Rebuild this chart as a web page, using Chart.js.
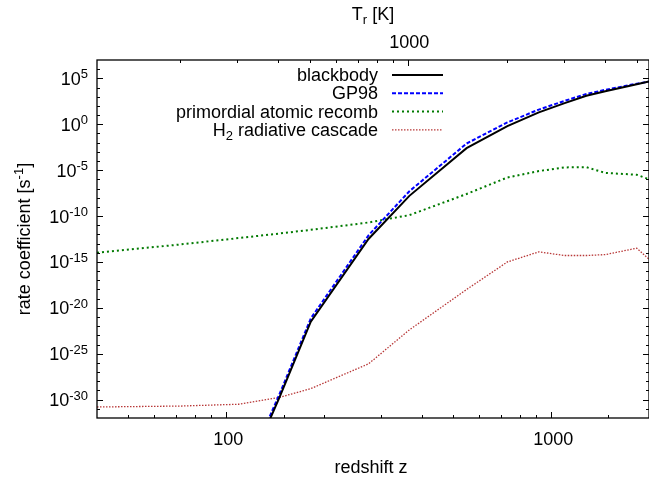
<!DOCTYPE html>
<html lang="en">
<head>
<meta charset="utf-8">
<title>Rate coefficients vs redshift</title>
<script src="https://cdn.jsdelivr.net/npm/chart.js@4.4.1/dist/chart.umd.min.js"></script>
<style>
  html, body { margin: 0; padding: 0; background: #fff; }
  .chart-container { width: 649px; height: 478px; }
</style>
</head>
<body>
<div class="chart-container"><canvas id="rate-chart" width="649" height="478"></canvas></div>

<script>
/* redshift of each tabulated point */
const redshift = [40, 72, 109, 146, 182, 274, 366, 549, 733, 916, 1100, 1283, 1467, 1834, 2000];

/* log10 of rate coefficient [s^-1] at each redshift (null = no point) */
const blackbodyExp = [null, null, -40.0, -29.7, -21.5, -12.5, -7.8, -2.6, -0.2, 1.3, 2.3, 3.1, 3.6, 4.35, 4.65];
const gp98Exp      = [null, null, -39.6, -29.35, -21.15, -12.1, -7.3, -2.1, 0.2, 1.6, 2.55, 3.3, 3.75, 4.42, 4.65];
const recombExp    = [-14.0, -13.1, -12.4, -11.9, -11.5, -10.7, -9.9, -7.6, -5.8, -5.1, -4.7, -4.68, -5.3, -5.5, -6.0];
const cascadeExp   = [-30.8, -30.7, -30.5, -29.75, -28.8, -26.1, -22.4, -18.0, -15.0, -13.9, -14.3, -14.3, -14.2, -13.5, -14.7];

const seriesNames = ['blackbody', 'GP98', 'primordial atomic recomb', 'H2 radiative cascade'];

/* axis ticks */
const yLabelExps = [5, 0, -5, -10, -15, -20, -25, -30];
const xLabelValues = [100, 1000];
const tempTicks = [200, 300, 400, 500, 600, 700, 800, 900, 1000, 2000, 3000, 4000, 5000];
const tempLabels = [1000];

const FONT = '"Liberation Sans", Arial, Helvetica, sans-serif';

function toPoints(exps) {
  const pts = [];
  for (let i = 0; i < redshift.length; i++) {
    if (exps[i] !== null) pts.push({ x: redshift[i], y: Math.pow(10, exps[i]) });
  }
  return pts;
}

/* draw base text followed by a raised (sup) or lowered (sub) part, starting at x */
function drawScripted(ctx, parts, x, y) {
  let cx = x;
  parts.forEach(function (p) {
    ctx.font = (p.small ? '13px ' : '18px ') + FONT;
    ctx.fillText(p.t, cx, y + (p.dy || 0));
    cx += ctx.measureText(p.t).width;
  });
  return cx - x;
}

function measureScripted(ctx, parts) {
  let w = 0;
  parts.forEach(function (p) {
    ctx.font = (p.small ? '13px ' : '18px ') + FONT;
    w += ctx.measureText(p.t).width;
  });
  return w;
}

const legendParts = [
  [{ t: 'blackbody' }],
  [{ t: 'GP98' }],
  [{ t: 'primordial atomic recomb' }],
  [{ t: 'H' }, { t: '2', small: true, dy: 4 }, { t: ' radiative cascade' }]
];

const gnuplotLook = {
  id: 'gnuplotLook',
  afterDraw(chart) {
    const ctx = chart.ctx;
    const area = chart.chartArea;
    const xs = chart.scales.x, x2 = chart.scales.x2, ys = chart.scales.y;

    ctx.save();
    ctx.strokeStyle = '#000';
    ctx.fillStyle = '#000';

    // ticks (inward)
    ctx.lineWidth = 1;
    function line(a, b, c, d) { ctx.beginPath(); ctx.moveTo(a, b); ctx.lineTo(c, d); ctx.stroke(); }

    xs.ticks.forEach(function (t) {
      const px = Math.round(xs.getPixelForValue(t.value)) + 0.5;
      if (px <= area.left + 1 || px >= area.right - 1) return;
      const len = xLabelValues.indexOf(t.value) >= 0 ? 6 : 3;
      line(px, area.bottom, px, area.bottom - len);
    });
    tempTicks.forEach(function (v) {
      const px = Math.round(x2.getPixelForValue(v)) + 0.5;
      if (px <= area.left + 1 || px >= area.right - 1) return;
      const len = tempLabels.indexOf(v) >= 0 ? 6 : 3;
      line(px, area.top, px, area.top + len);
    });
    for (let e = -31; e <= 6; e++) {
      const py = Math.round(ys.getPixelForValue(Math.pow(10, e))) + 0.5;
      const len = e % 5 === 0 ? 6 : 3;
      line(area.left, py, area.left + len, py);
      line(area.right, py, area.right - len, py);
    }

    // frame
    ctx.lineWidth = 1.3;
    ctx.strokeRect(area.left, area.top, area.right - area.left, area.bottom - area.top);

    // y tick labels 10^n
    ctx.textBaseline = 'alphabetic';
    ctx.textAlign = 'left';
    yLabelExps.forEach(function (e) {
      const py = ys.getPixelForValue(Math.pow(10, e));
      const parts = [{ t: '10' }, { t: String(e), small: true, dy: -6.5 }];
      const w = measureScripted(ctx, parts);
      drawScripted(ctx, parts, 88 - w, py + 6.5);
    });

    // x tick labels
    ctx.font = '18px ' + FONT;
    ctx.textAlign = 'center';
    xLabelValues.forEach(function (v) {
      ctx.fillText(String(v), xs.getPixelForValue(v) + 2, 445);
    });
    tempLabels.forEach(function (v) {
      ctx.fillText(String(v), x2.getPixelForValue(v) + 1, 48);
    });

    // axis titles
    const midX = (area.left + area.right) / 2;
    ctx.fillText('redshift z', midX - 2, 473);
    ctx.textAlign = 'left';
    const tParts = [{ t: 'T' }, { t: 'r', small: true, dy: 4 }, { t: ' [K]' }];
    drawScripted(ctx, tParts, midX - measureScripted(ctx, tParts) / 2, 19.5);

    ctx.save();
    ctx.translate(30, (area.top + area.bottom) / 2);
    ctx.rotate(-Math.PI / 2);
    const yParts = [{ t: 'rate coefficient [s' }, { t: '-1', small: true, dy: -7 }, { t: ']' }];
    drawScripted(ctx, yParts, -measureScripted(ctx, yParts) / 2, 0);
    ctx.restore();

    // legend
    const rowBase = [81, 99.3, 117.6, 135.9];
    chart.data.datasets.forEach(function (ds, i) {
      ctx.fillStyle = '#000';
      const w = measureScripted(ctx, legendParts[i]);
      drawScripted(ctx, legendParts[i], 378 - w, rowBase[i]);
      ctx.strokeStyle = ds.borderColor;
      ctx.lineWidth = ds.borderWidth;
      ctx.setLineDash(ds.borderDash || []);
      line(392, rowBase[i] - 6, 443, rowBase[i] - 6);
      ctx.setLineDash([]);
    });

    ctx.restore();
  }
};

const chart = new Chart(document.getElementById('rate-chart'), {
  type: 'line',
  data: {
    datasets: [
      { label: seriesNames[0], data: toPoints(blackbodyExp), borderColor: '#000000', borderWidth: 2 },
      { label: seriesNames[1], data: toPoints(gp98Exp), borderColor: '#0000ff', borderWidth: 2, borderDash: [4, 2] },
      { label: seriesNames[2], data: toPoints(recombExp), borderColor: '#007a00', borderWidth: 2, borderDash: [2, 3] },
      { label: seriesNames[3], data: toPoints(cascadeExp), borderColor: '#b83838', borderWidth: 1.3, borderDash: [1.5, 1.5] }
    ]
  },
  options: {
    responsive: false,
    animation: false,
    devicePixelRatio: 1,
    layout: { padding: 0 },
    elements: { point: { radius: 0 }, line: { tension: 0, fill: false } },
    plugins: { legend: { display: false }, tooltip: { enabled: false } },
    scales: {
      x: {
        type: 'logarithmic', position: 'bottom', min: 40, max: 2000,
        grid: { display: false }, border: { display: false }, ticks: { display: false },
        afterFit(s) { s.height = 60; }
      },
      x2: {
        type: 'logarithmic', position: 'top', min: 2.725 * 41, max: 2.725 * 2001,
        grid: { display: false }, border: { display: false }, ticks: { display: false },
        afterFit(s) { s.height = 60; }
      },
      y: {
        type: 'logarithmic', position: 'left', min: 1e-32, max: 1e7,
        grid: { display: false }, border: { display: false }, ticks: { display: false },
        afterFit(s) { s.width = 97; }
      }
    }
  },
  plugins: [gnuplotLook]
});
</script>
</body>
</html>
